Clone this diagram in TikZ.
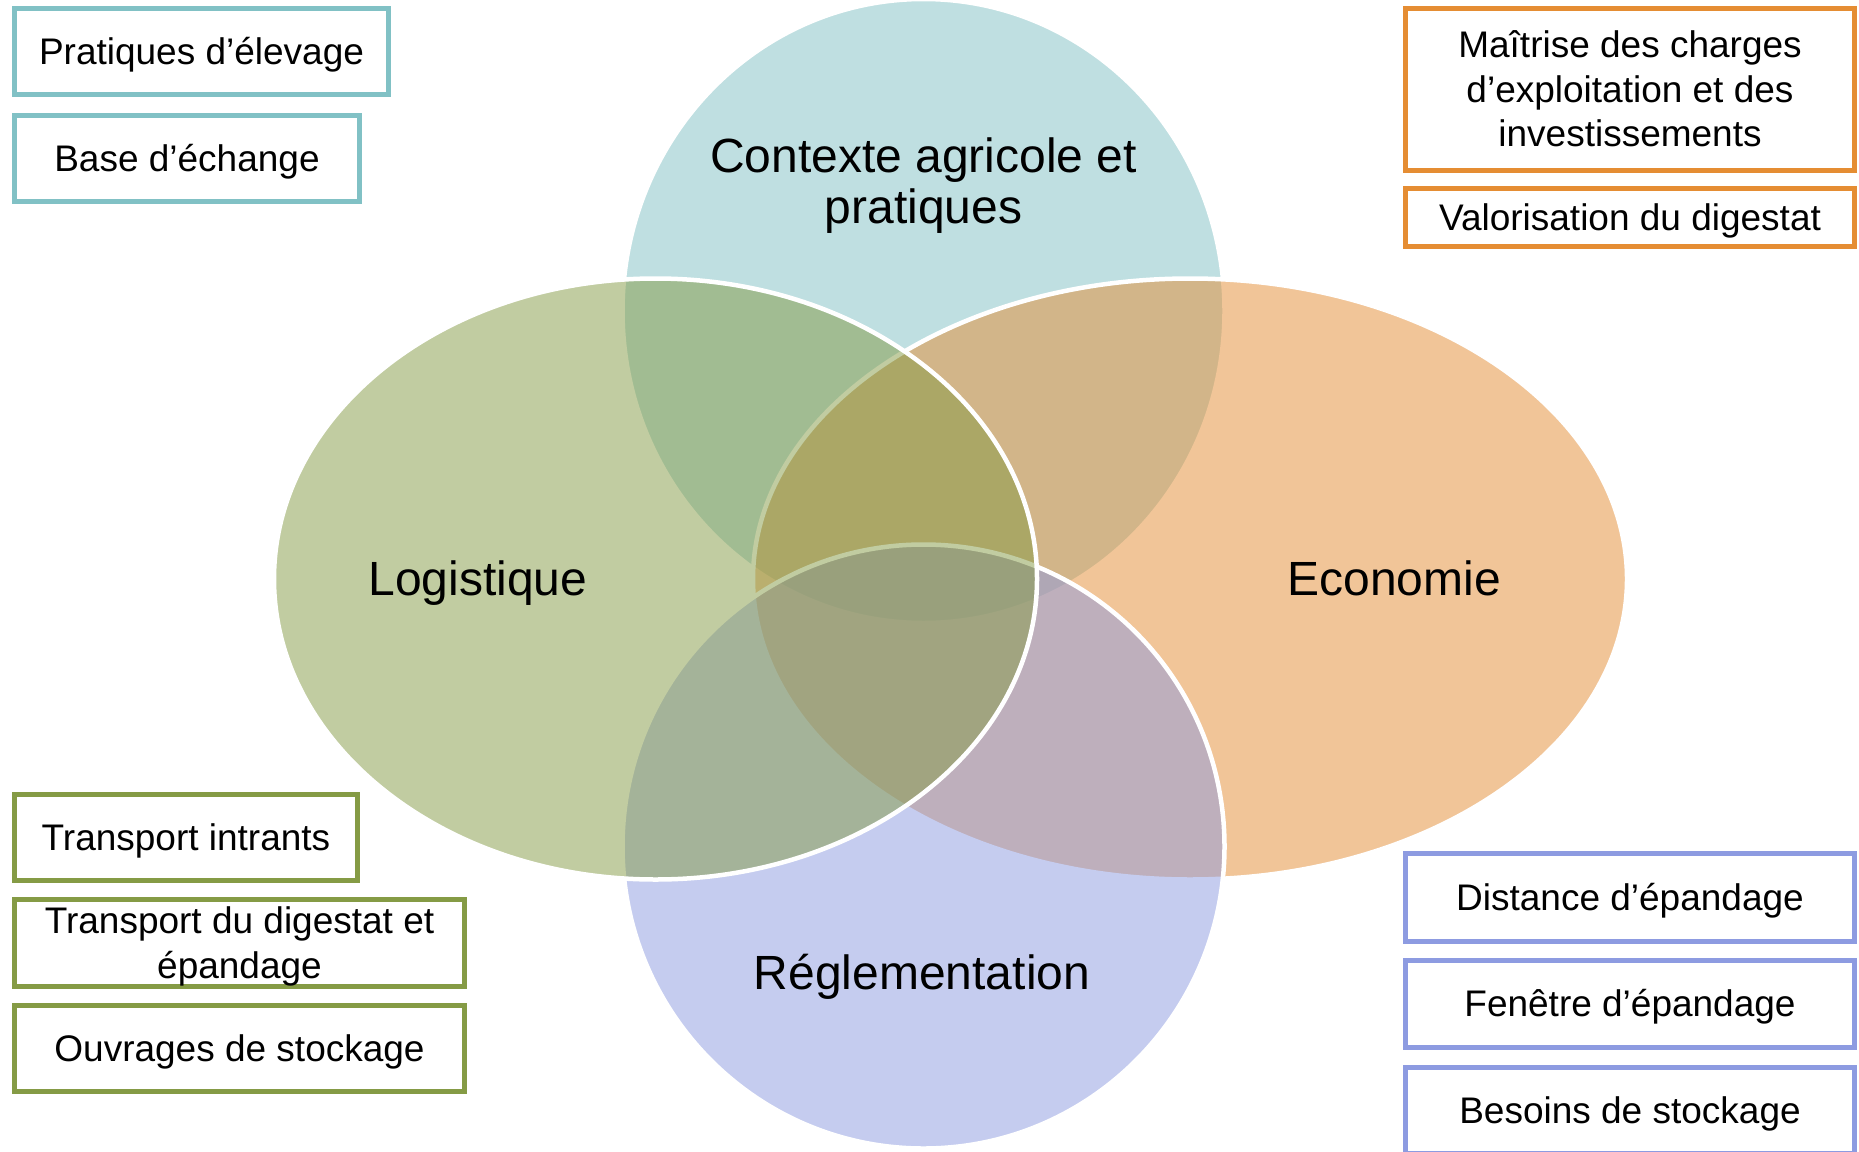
\documentclass[tikz,border=0pt]{standalone}
\usepackage{fontspec}
\setmainfont{Liberation Sans}
\definecolor{cT}{RGB}{129,193,197}
\definecolor{cR}{RGB}{229,141,51}
\definecolor{cB}{RGB}{141,155,225}
\definecolor{cL}{RGB}{133,155,69}
\newcommand\boxstrut{\rule[-7.8pt]{0pt}{41.3pt}}
\newcommand\lblstrut{\rule[-10.5pt]{0pt}{50.5pt}}
\begin{document}
\begin{tikzpicture}[x=1pt,y=-1pt,
  venn/.style={fill=#1, fill opacity=0.5, draw=white, draw opacity=1, line width=4.5pt},
  itembox/.style={draw=#1, line width=5pt, fill=white, inner sep=0pt, align=center,
    font=\fontsize{37}{44.5}\selectfont},
  vlabel/.style={inner sep=0pt, align=center, font=\fontsize{48}{51}\selectfont}]
\useasboundingbox (0,0) rectangle (1859,1151);
\fill[white] (0,0) rectangle (1859,1151);
% Venn ellipses (order: top, right, bottom, left)
\draw[venn=cT] (923.5,311) ellipse [x radius=301pt, y radius=312pt];
\draw[venn=cR] (1190,579) ellipse [x radius=437pt, y radius=300.5pt];
\draw[venn=cB] (923.5,846.5) ellipse [x radius=301pt, y radius=302pt];
\draw[venn=cL] (655.5,579) ellipse [x radius=381.5pt, y radius=300.5pt];
% labels
\node[vlabel] (lblT) at (923.5,183) {\lblstrut Contexte agricole et\\ \lblstrut pratiques};
\node[vlabel] (lblL) at (478,581) {\lblstrut Logistique};
\node[vlabel] (lblR) at (1394,581) {\lblstrut Economie};
\node[vlabel] (lblB) at (922,975) {\lblstrut Réglementation};
% boxes
\node[itembox=cT, minimum width=374pt, minimum height=86pt] (b1) at (201.5,51.5) {\boxstrut Pratiques d’élevage};
\node[itembox=cT, minimum width=345pt, minimum height=86pt] (b2) at (187,158.5) {\boxstrut Base d’échange};
\node[itembox=cR, minimum width=449pt, minimum height=162pt] (b3) at (1630,89.5) {\boxstrut Maîtrise des charges\\ \boxstrut d’exploitation et des\\ \boxstrut investissements};
\node[itembox=cR, minimum width=449pt, minimum height=58pt] (b4) at (1630,217.5) {\boxstrut Valorisation du digestat};
\node[itembox=cL, minimum width=343pt, minimum height=86pt] (b5) at (186,837.5) {\boxstrut Transport intrants};
\node[itembox=cL, minimum width=450pt, minimum height=87pt] (b6) at (239.5,943) {\boxstrut Transport du digestat et\\ \boxstrut épandage};
\node[itembox=cL, minimum width=450pt, minimum height=86pt] (b7) at (239.5,1048.5) {\boxstrut Ouvrages de stockage};
\node[itembox=cB, minimum width=449pt, minimum height=88pt] (b8) at (1630,897.5) {\boxstrut Distance d’épandage};
\node[itembox=cB, minimum width=449pt, minimum height=87pt] (b9) at (1630,1004) {\boxstrut Fenêtre d’épandage};
\node[itembox=cB, minimum width=449pt, minimum height=86pt] (b10) at (1630,1110.5) {\boxstrut Besoins de stockage};
\end{tikzpicture}
\end{document}
